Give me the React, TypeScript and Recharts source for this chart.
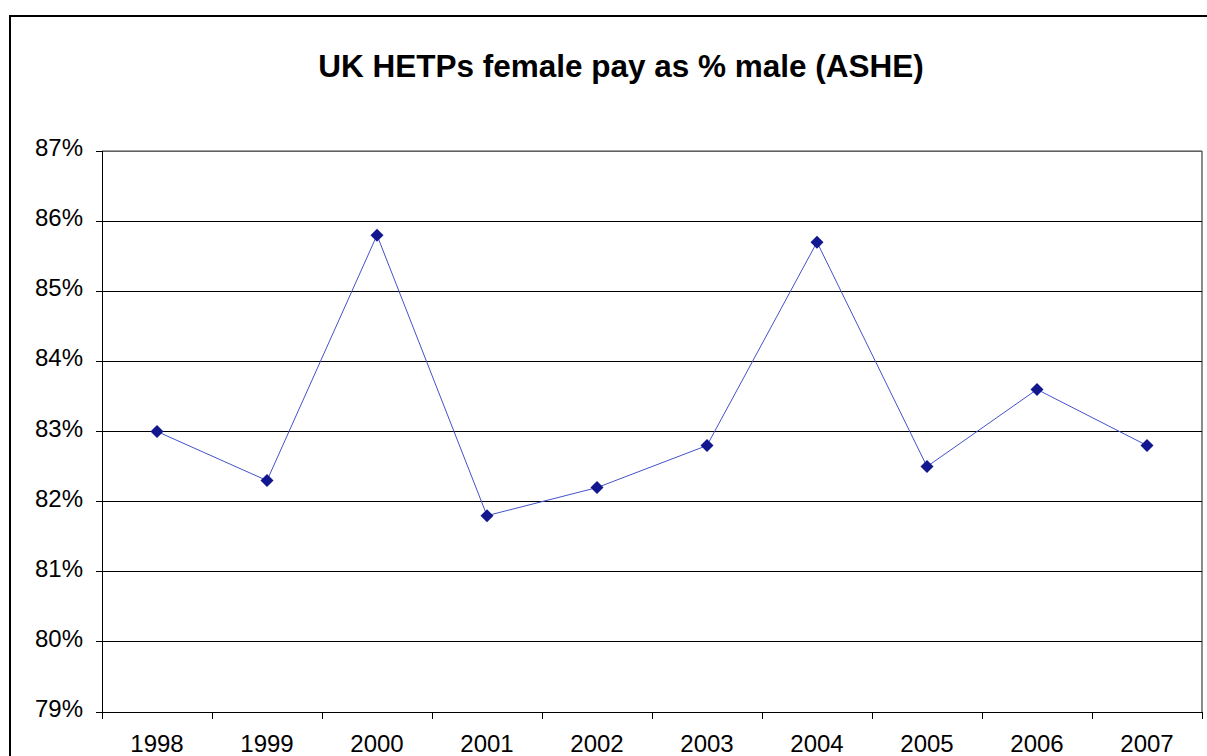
import { LineChart, Line, XAxis, YAxis, CartesianGrid, ReferenceLine } from "recharts";

const years = ["1998", "1999", "2000", "2001", "2002", "2003", "2004", "2005", "2006", "2007"];
const femalePayPct = [83.0, 82.3, 85.8, 81.8, 82.2, 82.8, 85.7, 82.5, 83.6, 82.8];
const yTicks = [79, 80, 81, 82, 83, 84, 85, 86, 87];

const data = years.map((year, i) => ({ year, value: femalePayPct[i] }));

const FONT = '"Liberation Sans", Arial, sans-serif';
// half of one category slot (plot is 1100px wide, 10 categories)
const HALF_SLOT = 55;

function YearTick(props: any) {
  const { x, y, payload, index, visibleTicksCount } = props;
  const last = index === visibleTicksCount - 1;
  return (
    <g shapeRendering="crispEdges">
      <line x1={x - HALF_SLOT} x2={x - HALF_SLOT} y1={y} y2={y + 7} stroke="#000" />
      {last && <line x1={x + HALF_SLOT} x2={x + HALF_SLOT} y1={y} y2={y + 7} stroke="#000" />}
      <text x={x} y={y + 40} textAnchor="middle" fontSize={24} fontFamily={FONT} fill="#000">
        {payload.value}
      </text>
    </g>
  );
}

function PctTick(props: any) {
  const { x, y, payload } = props;
  return (
    <g shapeRendering="crispEdges">
      <line x1={x - 6} x2={x} y1={y} y2={y} stroke="#000" />
      <text x={x - 19} y={y + 5} textAnchor="end" fontSize={24} fontFamily={FONT} fill="#000">
        {`${payload.value}%`}
      </text>
    </g>
  );
}

function Diamond(props: any) {
  const { cx, cy } = props;
  if (cx == null || cy == null) return null;
  const r = 6.5;
  return (
    <polygon
      points={`${cx},${cy - r} ${cx + r},${cy} ${cx},${cy + r} ${cx - r},${cy}`}
      fill="#12178f"
      stroke="none"
    />
  );
}

export default function App() {
  return (
    <div
      style={{
        position: "absolute",
        left: 9,
        top: 15,
        width: 1198,
        height: 741,
        borderLeft: "2px solid #000",
        borderTop: "2px solid #000",
        boxSizing: "border-box",
        background: "#fff",
      }}
    >
      <div
        style={{
          position: "absolute",
          left: 110,
          width: 1000,
          top: 34,
          textAlign: "center",
          fontFamily: FONT,
          fontWeight: "bold",
          fontSize: 31.5,
          lineHeight: "31.5px",
          color: "#000",
        }}
      >
        UK HETPs female pay as % male (ASHE)
      </div>
      {/* grey right edge of the plot frame */}
      <div
        style={{
          position: "absolute",
          left: 1190,
          top: 134,
          width: 0,
          height: 561,
          borderLeft: "2px solid #8c8c8c",
        }}
      />
      <LineChart
        width={1196}
        height={739}
        data={data}
        margin={{ top: 134, right: 5, left: 11, bottom: 4 }}
      >
        <CartesianGrid vertical={false} stroke="#000" shapeRendering="crispEdges" />
        <XAxis
          dataKey="year"
          interval={0}
          height={40}
          padding={{ left: HALF_SLOT, right: HALF_SLOT }}
          tickLine={false}
          tickSize={0}
          tickMargin={0}
          axisLine={{ stroke: "#000", shapeRendering: "crispEdges" }}
          tick={<YearTick />}
        />
        <YAxis
          domain={[79, 87]}
          ticks={yTicks}
          type="number"
          width={80}
          interval={0}
          tickLine={false}
          tickSize={0}
          tickMargin={0}
          axisLine={{ stroke: "#000", shapeRendering: "crispEdges" }}
          tick={<PctTick />}
        />
        <ReferenceLine y={87} stroke="#808080" strokeWidth={1.5} />
        <Line
          type="linear"
          dataKey="value"
          stroke="#4352c8"
          strokeWidth={1}
          dot={<Diamond />}
          activeDot={false}
          isAnimationActive={false}
        />
      </LineChart>
    </div>
  );
}
